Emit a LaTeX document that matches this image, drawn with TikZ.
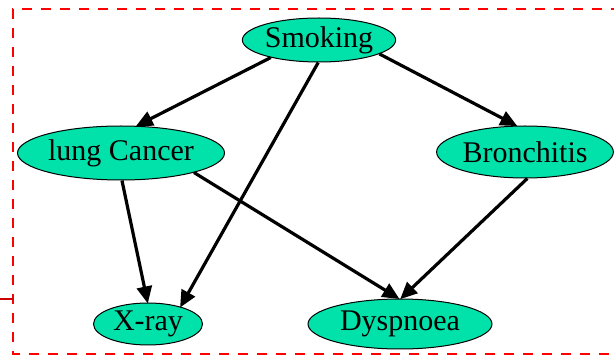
\documentclass[tikz,border=0pt]{standalone}
\usepackage{fontspec}
\setmainfont{Liberation Serif}
\usetikzlibrary{shapes.geometric,arrows.meta}
\definecolor{nodegreen}{RGB}{0,226,170}
\definecolor{framered}{RGB}{255,0,0}
\definecolor{darkred}{RGB}{204,0,0}
\tikzset{
  bnode/.style={ellipse, draw=black, line width=1pt, fill=nodegreen, inner sep=0pt,
    font=\fontsize{30}{32}\selectfont},
  edge/.style={line width=3.2pt, -{Triangle[length=17pt,width=15pt]}, shorten >=-1pt},
  frame/.style={draw=framered, line width=2.6pt, dash pattern=on 10pt off 9pt}
}
\begin{document}
\begin{tikzpicture}[x=1pt,y=1pt]
\useasboundingbox (0,0) rectangle (614,359);
\clip (0,0) rectangle (614,359);
\fill[white] (0,0) rectangle (614,359);
% frame
\draw[frame] (640,350) -- (13,350) -- (13,5) -- (640,5);
\draw[darkred, line width=1.8pt] (0,60) -- (13,60);
% nodes
\node[bnode, minimum width=152pt, minimum height=44pt] (smoke) at (319,319) {Smoking};
\node[bnode, minimum width=207pt, minimum height=54pt] (cancer) at (121,206) {lung Cancer};
\node[bnode, minimum width=176pt, minimum height=52pt] (bron) at (525,207) {Bronchitis};
\node[bnode, minimum width=109pt, minimum height=42pt] (xray) at (148,35) {X-ray};
\node[bnode, minimum width=184pt, minimum height=50pt] (dysp) at (400,35) {Dyspnoea};
% edges
\draw[edge] (smoke.200) -- (cancer.60);
\draw[edge] (smoke.268) -- (xray.28);
\draw[edge] (smoke.347) -- (bron.108);
\draw[edge] (cancer.272) -- (xray.91);
\draw[edge] (cancer.345) -- (dysp.93);
\draw[edge] (bron.275) -- (dysp.88);
\end{tikzpicture}
\end{document}
